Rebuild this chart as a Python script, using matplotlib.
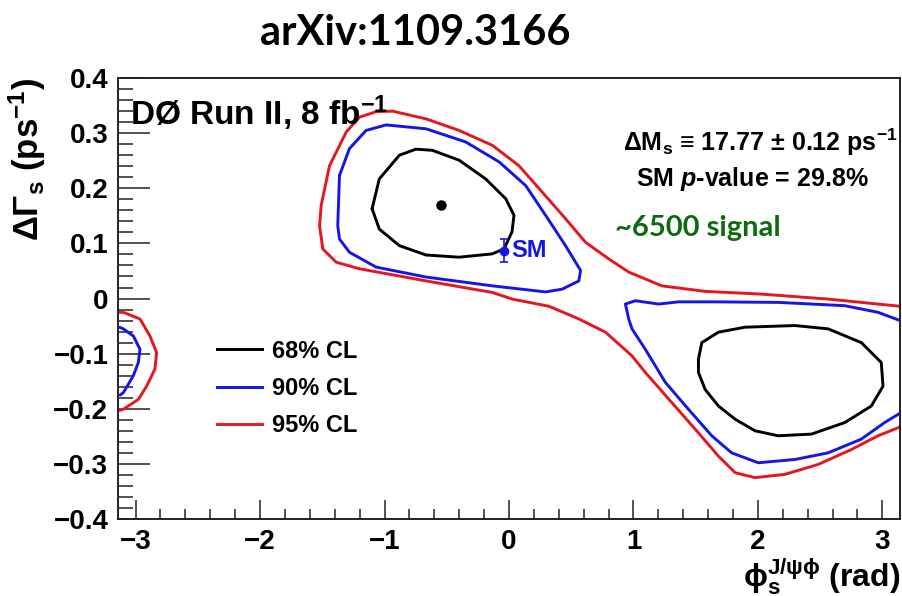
import numpy as np
import matplotlib
matplotlib.use('Agg')
from matplotlib import pyplot as plt
from matplotlib.lines import Line2D
from matplotlib.ticker import MultipleLocator

plt.rcParams['font.family'] = ['Liberation Sans', 'DejaVu Sans']
plt.rcParams['font.weight'] = 'bold'
plt.rcParams['mathtext.fontset'] = 'custom'
plt.rcParams['mathtext.default'] = 'bf'
plt.rcParams['mathtext.rm'] = 'Liberation Sans:bold'
plt.rcParams['mathtext.it'] = 'Liberation Sans:bold:italic'
plt.rcParams['mathtext.bf'] = 'Liberation Sans:bold'
plt.rcParams['axes.unicode_minus'] = True

# 68% CL, upper lobe (closed)
c68a_phi = [-1.100, -1.042, -0.881, -0.748, -0.617, -0.401, -0.187, -0.026, 0.040,
            0.024, -0.040, -0.136, -0.401, -0.667, -0.881, -1.042, -1.100]
c68a_dg = [0.163, 0.217, 0.260, 0.271, 0.269, 0.251, 0.217, 0.181, 0.151,
           0.121, 0.090, 0.081, 0.075, 0.079, 0.096, 0.126, 0.163]

# 68% CL, lower lobe (closed)
c68b_phi = [1.522, 1.549, 1.683, 1.897, 2.297, 2.564, 2.831, 2.991, 3.005, 2.911,
            2.698, 2.430, 2.163, 1.977, 1.817, 1.683, 1.576, 1.522, 1.522]
c68b_dg = [-0.110, -0.080, -0.061, -0.052, -0.049, -0.055, -0.080, -0.116, -0.159, -0.195,
           -0.225, -0.246, -0.249, -0.240, -0.219, -0.195, -0.165, -0.134, -0.110]

# 90% CL, upper lobe (closed)
c90a_phi = [-1.362, -1.282, -1.148, -0.988, -0.667, -0.347, -0.080, 0.134, 0.294, 0.454,
            0.575, 0.561, 0.427, 0.294, -0.134, -0.667, -1.068, -1.282, -1.362, -1.376, -1.362]
c90a_dg = [0.223, 0.272, 0.305, 0.315, 0.308, 0.284, 0.248, 0.205, 0.151, 0.096,
           0.051, 0.032, 0.017, 0.012, 0.023, 0.039, 0.057, 0.084, 0.108, 0.132, 0.223]

# 90% CL, lower lobe (wraps around phi = +-pi)
c90b_phi = [3.142, 2.965, 2.698, 2.163, 1.629, 1.362, 1.202, 1.015, 0.935, 0.962, 0.988,
            1.095, 1.256, 1.442, 1.629, 1.789, 2.003, 2.297, 2.564, 2.831, 3.018, 3.142]
c90b_dg = [-0.040, -0.025, -0.013, -0.007, -0.006, -0.006, -0.010, -0.004, -0.010, -0.037, -0.055,
           -0.092, -0.152, -0.201, -0.249, -0.280, -0.298, -0.292, -0.280, -0.255, -0.225, -0.208]
c90c_phi = [-3.130, -3.099, -3.018, -2.965, -2.978, -3.018, -3.099, -3.125]
c90c_dg = [-0.052, -0.055, -0.068, -0.092, -0.116, -0.140, -0.171, -0.175]

# 95% CL, main contour (wraps around phi = +-pi)
c95a_phi = [3.142, 2.564, 2.030, 1.576, 1.228, 0.962, 0.801, 0.615, 0.454, 0.267, 0.080,
            -0.134, -0.401, -0.667, -0.935, -1.068, -1.202, -1.308, -1.442, -1.509, -1.522,
            -1.496, -1.389, -1.202, -0.667, -0.134, 0.026, 0.321, 0.561, 0.775, 0.988,
            1.095, 1.309, 1.496, 1.683, 1.817, 1.977, 2.217, 2.484, 2.751, 2.965, 3.142]
c95a_dg = [-0.014, -0.001, 0.008, 0.013, 0.023, 0.048, 0.072, 0.102, 0.145, 0.193, 0.241,
           0.278, 0.305, 0.326, 0.340, 0.339, 0.329, 0.302, 0.241, 0.169, 0.132,
           0.090, 0.066, 0.054, 0.032, 0.011, -0.001, -0.014, -0.037, -0.061, -0.104,
           -0.134, -0.189, -0.237, -0.286, -0.316, -0.325, -0.319, -0.301, -0.274, -0.249, -0.233]
c95b_phi = [-3.130, -3.099, -2.965, -2.885, -2.831, -2.845, -2.911, -2.978, -3.099, -3.130]
c95b_dg = [-0.025, -0.025, -0.037, -0.068, -0.098, -0.128, -0.159, -0.183, -0.201, -0.203]

best_phi, best_dg = -0.547, 0.169
sm_phi, sm_dg, sm_err = -0.038, 0.087, 0.021

xticks = [-3, -2, -1, 0, 1, 2, 3]
yticks = [-0.4, -0.3, -0.2, -0.1, 0, 0.1, 0.2, 0.3, 0.4]

col68, col90, col95 = 'black', '#1515e6', '#e6161e'
lw = 2.1

fig = plt.figure(figsize=(9.02, 5.96), dpi=100)
ax = fig.add_axes([0.1308, 0.1292, 0.8670, 0.7398])

kw = dict(lw=lw, solid_joinstyle='round', solid_capstyle='round')
ax.plot(c95a_phi, c95a_dg, color=col95, **kw)
ax.plot(c95b_phi, c95b_dg, color=col95, **kw)
ax.plot(c90a_phi, c90a_dg, color=col90, **kw)
ax.plot(c90b_phi, c90b_dg, color=col90, **kw)
ax.plot(c90c_phi, c90c_dg, color=col90, **kw)
ax.plot(c68a_phi, c68a_dg, color=col68, **kw)
ax.plot(c68b_phi, c68b_dg, color=col68, **kw)

ax.plot(best_phi, best_dg, 'o', color='black', ms=6.5)
ax.errorbar(sm_phi, sm_dg, yerr=sm_err, fmt='o', color=col90, ms=6, elinewidth=1.2,
            capsize=3, capthick=1.2)
ax.text(sm_phi + 0.06, sm_dg, 'SM', color=col90, fontsize=17, fontweight='bold',
        va='center', ha='left')

ax.set_xlim(-np.pi, np.pi)
ax.set_ylim(-0.4, 0.4)
ax.set_xticks(xticks)
ax.set_yticks(yticks)
ax.set_yticklabels(['0' if v == 0 else f'{v:.1f}'.replace('-', '\u2212') for v in yticks])
ax.xaxis.set_minor_locator(MultipleLocator(0.2))
ax.yaxis.set_minor_locator(MultipleLocator(0.02))
ax.tick_params(axis='both', which='both', direction='in', top=False, right=False,
               labelsize=20, width=1.1, color='#222222')
ax.tick_params(axis='x', which='major', length=14, pad=7)
ax.tick_params(axis='x', which='minor', length=7)
ax.tick_params(axis='y', which='major', length=23, pad=7)
ax.tick_params(axis='y', which='minor', length=11)
for lab in ax.get_xticklabels() + ax.get_yticklabels():
    lab.set_fontweight('bold')
for sp in ax.spines.values():
    sp.set_linewidth(1.4)
    sp.set_color('#222222')

# axis titles
ax.text(1.0, -0.153, r'$\phi_{s}^{J/\psi\phi}$ (rad)', transform=ax.transAxes,
        fontsize=23, fontweight='bold', ha='right', va='baseline')
ax.set_ylabel(r'$\Delta\Gamma_{s}$ (ps$^{-1}$)', fontsize=25, fontweight='bold',
              loc='top', labelpad=4)

ax.text(0.015, 0.965, r'DØ Run II, 8 fb$^{-1}$', transform=ax.transAxes, fontsize=24,
        fontweight='bold', va='top', ha='left')
ax.text(0.997, 0.855, r'$\Delta$M$_{s}$ ≡ 17.77 ± 0.12 ps$^{-1}$', transform=ax.transAxes,
        fontsize=18, fontweight='bold', va='center', ha='right')
ax.text(0.662, 0.77, r'SM $\it{p}$-value = 29.8%', transform=ax.transAxes,
        fontsize=18, fontweight='bold', va='center', ha='left')
ax.text(0.635, 0.66, '~6500 signal', transform=ax.transAxes, fontsize=21,
        fontweight='bold', color='#0e6a0e', family=['Lato', 'DejaVu Sans'],
        va='center', ha='left')

handles = [Line2D([], [], color=col68, lw=lw),
           Line2D([], [], color=col90, lw=lw),
           Line2D([], [], color=col95, lw=lw)]
ax.legend(handles, ['68% CL', '90% CL', '95% CL'], loc='upper left',
          bbox_to_anchor=(0.1, 0.455), frameon=False,
          handlelength=1.9, handletextpad=0.4, labelspacing=0.6,
          prop={'weight': 'bold', 'size': 17})

fig.text(0.46, 0.945, 'arXiv:1109.3166', fontsize=30, fontweight='bold',
         family=['Lato', 'DejaVu Sans'], ha='center', va='center')

fig.savefig('out.png', dpi=100)
